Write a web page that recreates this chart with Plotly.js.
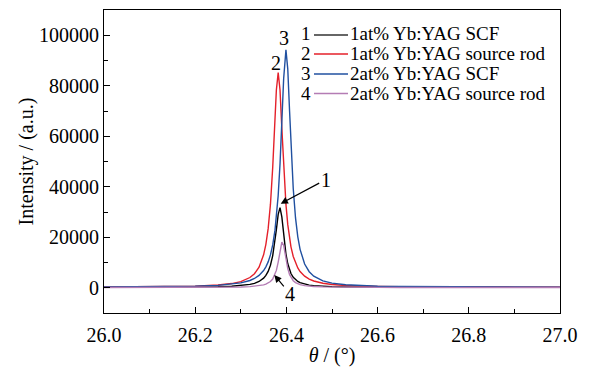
<!DOCTYPE html>
<html>
<head>
<meta charset="utf-8">
<script src="https://cdn.plot.ly/plotly-3.0.1.min.js"></script>
<style>html,body{margin:0;padding:0;background:#fff;}#chart{width:589px;height:367px;}</style>
</head>
<body>
<div id="chart"></div>
<script>
// Diffraction angle theta (degrees)
var theta = [26.00, 26.05, 26.10, 26.15, 26.20, 26.25, 26.28, 26.30, 26.32, 26.33, 26.34, 26.35, 26.355, 26.36, 26.365, 26.37, 26.375, 26.378, 26.382, 26.386, 26.39, 26.394, 26.399, 26.403, 26.407, 26.41, 26.415, 26.42, 26.425, 26.43, 26.44, 26.45, 26.46, 26.48, 26.50, 26.53, 26.56, 26.60, 26.65, 26.70, 26.80, 26.90, 27.00];

// 1at% Yb:YAG SCF (black)
var scf1 = [190, 200, 215, 245, 300, 440, 620, 860, 1330, 1760, 2490, 3790, 4870, 6470, 8900, 12750, 18550, 23050, 29050, 31750, 28050, 20850, 13350, 9470, 6960, 5640, 4130, 3150, 2480, 2010, 1410, 1060, 830, 580, 440, 330, 280, 230, 205, 190, 170, 165, 160];

// 1at% Yb:YAG source rod (red)
var rod1 = [310, 340, 390, 490, 660, 1080, 1660, 2440, 4050, 5570, 8160, 13040, 17200, 23400, 33000, 47700, 67200, 78300, 85200, 78300, 63100, 47700, 33000, 25000, 19400, 16200, 12400, 9730, 7840, 6430, 4570, 3420, 2670, 1780, 1300, 900, 690, 520, 420, 350, 290, 260, 240];

// 2at% Yb:YAG SCF (blue)
var scf2 = [310, 340, 390, 480, 630, 960, 1390, 1910, 2870, 3670, 4870, 6830, 8280, 10250, 13000, 16950, 22800, 27650, 36550, 49000, 65300, 82900, 94200, 86600, 69800, 56700, 39300, 27650, 20150, 15200, 9400, 6350, 4590, 2740, 1850, 1190, 860, 620, 470, 390, 310, 270, 250];

// 2at% Yb:YAG source rod (purple)
var rod2 = [110, 116, 120, 130, 150, 190, 250, 320, 450, 580, 770, 1120, 1400, 1820, 2450, 3460, 5210, 6870, 10150, 14660, 18100, 16800, 11200, 7560, 5210, 4050, 2790, 2030, 1550, 1220, 830, 610, 475, 330, 250, 195, 165, 140, 128, 120, 112, 108, 106];

var seriesNames = ['1at% Yb:YAG SCF', '1at% Yb:YAG source rod', '2at% Yb:YAG SCF', '2at% Yb:YAG source rod'];
var seriesNums = ['1', '2', '3', '4'];
var seriesData = [scf1, rod1, scf2, rod2];
var colors = ['#000000', '#e4202a', '#2050a0', '#b47cb4'];
var legendColors = ['#333333', '#e4202a', '#2050a0', '#b47cb4'];

var FONT = 'Liberation Serif, Times New Roman, serif';

var traces = seriesData.map(function (ys, i) {
  return {
    x: theta, y: ys, type: 'scatter', mode: 'lines', name: seriesNames[i],
    line: {color: colors[i], width: 1.4}, showlegend: false, hoverinfo: 'skip'
  };
});

// Plot area in pixels: left 104, right 560, top 10, bottom 313
var L = 104, R = 560, T = 10, B = 313;
function px2paperX(p) { return (p - L) / (R - L); }
function px2paperY(p) { return (B - p) / (B - T); }

var annotations = [];
var shapes = [];
var rowY = [33.5, 53.5, 73.5, 93.5];
var lineY = [35, 54, 74, 93.5];
for (var i = 0; i < 4; i++) {
  annotations.push({xref: 'paper', yref: 'paper', x: px2paperX(306), y: px2paperY(rowY[i]),
    text: seriesNums[i], showarrow: false, xanchor: 'center', yanchor: 'middle',
    font: {family: FONT, size: 19, color: '#000'}});
  annotations.push({xref: 'paper', yref: 'paper', x: px2paperX(348), y: px2paperY(rowY[i]),
    text: seriesNames[i], showarrow: false, xanchor: 'left', yanchor: 'middle',
    font: {family: FONT, size: 19, color: '#000'}});
  shapes.push({type: 'line', xref: 'paper', yref: 'paper', x0: px2paperX(314), x1: px2paperX(348),
    y0: px2paperY(lineY[i]), y1: px2paperY(lineY[i]), line: {color: legendColors[i], width: 1.4}});
}
// Peak labels
annotations.push({x: 26.3765, y: 89200, text: '2', showarrow: false, font: {family: FONT, size: 20, color: '#000'}});
annotations.push({x: 26.3954, y: 98900, text: '3', showarrow: false, font: {family: FONT, size: 20, color: '#000'}});
annotations.push({x: 26.3875, y: 33300, text: '1', showarrow: true, ax: 45, ay: -24,
  arrowhead: 2, arrowsize: 1.2, arrowwidth: 1.2, arrowcolor: '#000', standoff: 0,
  font: {family: FONT, size: 20, color: '#000'}});
annotations.push({x: 26.3735, y: 5030, text: '4', showarrow: true, ax: 16, ay: 19,
  arrowhead: 2, arrowsize: 1.2, arrowwidth: 1.2, arrowcolor: '#000', standoff: 0,
  font: {family: FONT, size: 20, color: '#000'}});

var layout = {
  width: 589, height: 367,
  margin: {l: L, r: 589 - R, t: T, b: 367 - B},
  paper_bgcolor: '#fff', plot_bgcolor: '#fff',
  font: {family: FONT, size: 20, color: '#000'},
  separators: '.',
  showlegend: false,
  xaxis: {
    range: [26, 27], dtick: 0.2, tick0: 26, tickformat: '.1f',
    ticks: 'inside', ticklen: 6, tickwidth: 1, tickcolor: '#000', ticklabelstandoff: 4,
    minor: {ticks: 'inside', ticklen: 4, dtick: 0.1, tickcolor: '#000', showgrid: false},
    showline: true, linecolor: '#000', linewidth: 1, mirror: true,
    showgrid: false, zeroline: false,
    tickfont: {family: FONT, size: 20, color: '#000'},
    title: {text: '<i>θ</i> / (°)', font: {family: FONT, size: 20, color: '#000'}, standoff: 4}
  },
  yaxis: {
    range: [-10000, 110000], dtick: 20000, tick0: 0, tickformat: 'd',
    ticks: 'inside', ticklen: 6, tickwidth: 1, tickcolor: '#000',
    minor: {ticks: 'inside', ticklen: 4, dtick: 10000, tickcolor: '#000', showgrid: false},
    showline: true, linecolor: '#000', linewidth: 1, mirror: true,
    showgrid: false, zeroline: false,
    tickfont: {family: FONT, size: 20, color: '#000'},
    title: {text: 'Intensity / (a.u.)', font: {family: FONT, size: 20, color: '#000'}, standoff: 0}
  },
  annotations: annotations,
  shapes: shapes
};

Plotly.newPlot('chart', traces, layout, {staticPlot: true, displayModeBar: false});
</script>
</body>
</html>
